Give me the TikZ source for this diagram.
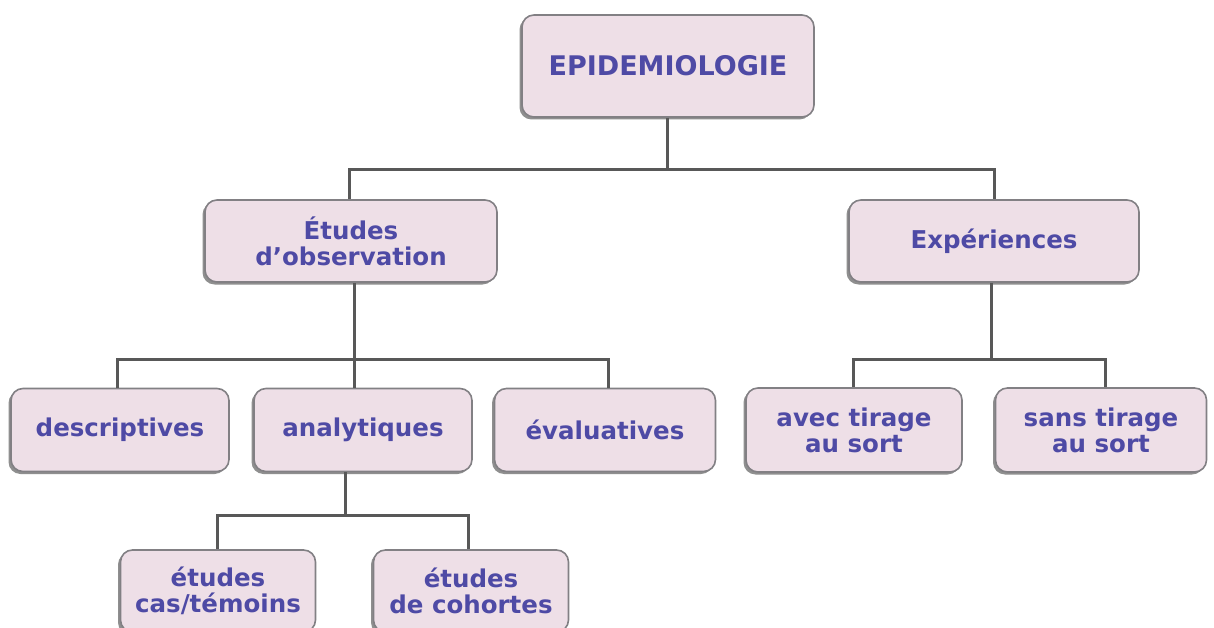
\documentclass[tikz,border=0pt]{standalone}
\usepackage{fontspec}
\newfontfamily\boxfont{DejaVu Sans}
\usetikzlibrary{shadows}
\definecolor{boxfill}{RGB}{238,223,231}
\definecolor{boxline}{RGB}{130,128,132}
\definecolor{boxtext}{RGB}{78,74,165}
\definecolor{linkcol}{RGB}{88,88,88}
\tikzset{
  box/.style={draw=boxline, line width=1.6pt, fill=boxfill, rounded corners=12pt,
    align=center, text=boxtext, inner sep=0pt,
    font=\boxfont\bfseries\fontsize{24.5}{26}\selectfont,
    drop shadow={shadow xshift=-2.5pt, shadow yshift=-2.5pt, fill=black!55, opacity=0.8}},
  link/.style={draw=linkcol, line width=3pt}
}
\begin{document}
\begin{tikzpicture}[x=1pt,y=-1pt]
\useasboundingbox (0,0) rectangle (1214,628);
\fill[white] (0,0) rectangle (1214,628);
% nodes
\node[box, minimum width=292pt, minimum height=102pt, font=\boxfont\bfseries\fontsize{27}{30}\selectfont] (epi) at (668,66) {EPIDEMIOLOGIE};
\node[box, minimum width=292pt, minimum height=82pt] (obs) at (351,241) {Études\\d’observation};
\node[box, minimum width=290pt, minimum height=82pt] (exp) at (994,241) {Expériences};
\node[box, minimum width=218pt, minimum height=83pt] (desc) at (120,430) {descriptives};
\node[box, minimum width=218pt, minimum height=83pt] (ana) at (363,430) {analytiques};
\node[box, minimum width=221pt, minimum height=83pt] (eval) at (605,430) {évaluatives};
\node[box, minimum width=216pt, minimum height=84pt] (avec) at (854,430) {avec tirage\\au sort};
\node[box, minimum width=211pt, minimum height=84pt] (sans) at (1101,430) {sans tirage\\au sort};
\node[box, minimum width=195pt, minimum height=82pt] (cas) at (218,591) {études\\cas/témoins};
\node[box, minimum width=195pt, minimum height=82pt] (coh) at (471,591) {études\\de cohortes};
% junctions
\coordinate (j1) at (667,170);
\coordinate (j2) at (354,359);
\coordinate (j3) at (991,359);
\coordinate (j4) at (345,515);
% connectors
\draw[link] (epi.south -| j1) -- (j1);
\draw[link] (j1) -| ([xshift=-2pt]obs.north);
\draw[link] (j1) -| (exp.north);
\draw[link] (obs.south -| j2) -- (j2);
\draw[link] (j2) -| ([xshift=-3pt]desc.north);
\draw[link] (j2) -- (ana.north -| j2);
\draw[link] (j2) -| ([xshift=3pt]eval.north);
\draw[link] (exp.south -| j3) -- (j3);
\draw[link] (j3) -| ([xshift=-1pt]avec.north);
\draw[link] (j3) -| ([xshift=4pt]sans.north);
\draw[link] (ana.south -| j4) -- (j4);
\draw[link] (j4) -| ([xshift=-1pt]cas.north);
\draw[link] (j4) -| ([xshift=-3pt]coh.north);
\end{tikzpicture}
\end{document}
